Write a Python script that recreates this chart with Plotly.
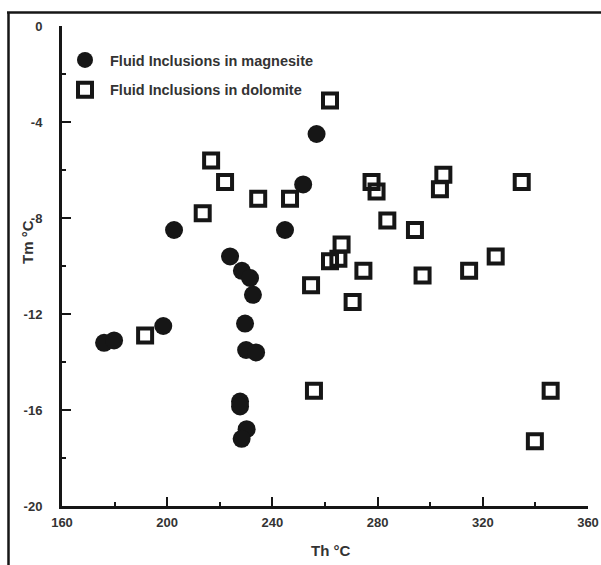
import plotly.graph_objects as go

# Fluid inclusions in magnesite (Th °C, Tm °C)
mag_th = [256.8, 251.7, 202.6, 244.8, 223.9, 228.4, 231.5, 232.6, 229.6, 230.0, 233.8,
          227.7, 227.7, 230.2, 228.3, 198.5, 176.0, 179.8]
mag_tm = [-4.5, -6.6, -8.5, -8.5, -9.6, -10.2, -10.5, -11.2, -12.4, -13.5, -13.6,
          -15.65, -15.85, -16.8, -17.2, -12.5, -13.2, -13.1]

# Fluid inclusions in dolomite (Th °C, Tm °C)
dol_th = [261.9, 216.7, 222.0, 234.6, 246.7, 213.5, 266.3, 261.9, 265.1, 274.6, 277.7,
          279.6, 305.0, 303.7, 334.8, 283.7, 294.2, 254.7, 270.5, 297.1, 314.8, 324.9,
          255.8, 345.8, 339.8, 191.6]
dol_tm = [-3.1, -5.6, -6.5, -7.2, -7.2, -7.8, -9.1, -9.8, -9.7, -10.2, -6.5,
          -6.9, -6.2, -6.8, -6.5, -8.1, -8.5, -10.8, -11.5, -10.4, -10.2, -9.6,
          -15.2, -15.2, -17.3, -12.9]

x_ticks = [160, 200, 240, 280, 320, 360]
x_ticktext = ["160", "200", "240", "280", "320", "360"]
y_ticks = [0, -4, -8, -12, -16, -20]
y_ticktext = ["0", "-4", "-8", "-12", "-16", "-20"]

W, H = 601, 565
L, R, T, B = 62, 13, 26, 59
PW, PH = W - L - R, H - T - B

def px(x):
    return (x - L) / PW

def py(y):
    return (H - B - y) / PH

ink = "#161616"
txt = "#333333"

fig = go.Figure()
fig.add_trace(go.Scatter(
    x=mag_th, y=mag_tm, mode="markers", name="Fluid Inclusions in magnesite",
    legendgroup="a",
    marker=dict(symbol="circle", size=18, color=ink, line=dict(width=0)),
))
fig.add_trace(go.Scatter(
    x=dol_th, y=dol_tm, mode="markers", name="Fluid Inclusions in dolomite",
    legendgroup="b",
    marker=dict(symbol="square-open", size=14, color=ink, line=dict(width=4, color=ink)),
))

axis_common = dict(
    showline=True, linewidth=3, linecolor=ink, mirror=False,
    showgrid=False, zeroline=False,
    ticks="inside", ticklen=9, tickwidth=2, tickcolor=ink,
    tickfont=dict(family="Liberation Sans, Arial", size=13, color=txt, weight="bold"),
)

fig.update_layout(
    width=W, height=H,
    margin=dict(l=L, r=R, t=T, b=B, autoexpand=False),
    paper_bgcolor="white", plot_bgcolor="white",
    showlegend=True,
    legend=dict(
        x=px(60), y=py(44), xanchor="left", yanchor="top",
        bgcolor="rgba(0,0,0,0)", borderwidth=0,
        font=dict(family="Liberation Sans, Arial", size=14.5, color=txt, weight="bold"),
        tracegroupgap=8, itemsizing="trace", itemwidth=40,
    ),
    xaxis=dict(
        range=[160, 360], tickmode="array", tickvals=x_ticks, ticktext=x_ticktext,
        ticklabelstandoff=2,
        minor=dict(ticks="inside", ticklen=4, tickwidth=1.5, tickcolor=ink, dtick=20, tick0=160),
        **axis_common,
    ),
    yaxis=dict(
        range=[-20, 0], tickmode="array", tickvals=y_ticks, ticktext=y_ticktext,
        ticklabelstandoff=14,
        minor=dict(ticks="inside", ticklen=4, tickwidth=1.5, tickcolor=ink, dtick=2, tick0=0),
        **axis_common,
    ),
    annotations=[
        dict(text="Th °C", x=px(330), y=py(550), xref="paper", yref="paper",
             showarrow=False, xanchor="center", yanchor="middle",
             font=dict(family="Liberation Sans, Arial", size=15, color=txt, weight="bold")),
        dict(text="Tm °C", x=px(28), y=py(242), xref="paper", yref="paper",
             showarrow=False, xanchor="center", yanchor="middle", textangle=-90,
             font=dict(family="Liberation Sans, Arial", size=15, color=txt, weight="bold")),
    ],
    shapes=[
        dict(type="line", xref="paper", yref="paper", x0=px(8.5), x1=px(8.5), y0=py(12), y1=py(575),
             line=dict(color=ink, width=2.5)),
        dict(type="line", xref="paper", yref="paper", x0=px(7), x1=px(601), y0=py(12.5), y1=py(12.5),
             line=dict(color=ink, width=2.5)),
    ],
)

fig.write_html(
    "out.html",
    config={"displayModeBar": False},
    post_script="document.body.style.margin='0';document.body.style.padding='0';"
                "document.documentElement.style.overflow='hidden';",
)
